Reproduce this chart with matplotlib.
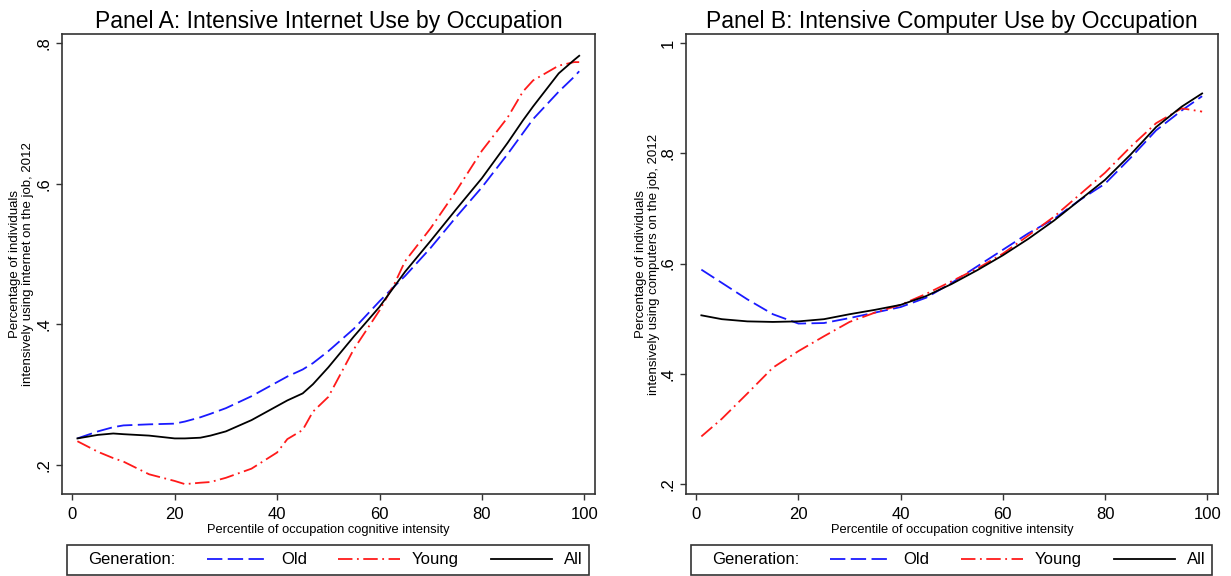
import matplotlib
matplotlib.use("Agg")
import matplotlib.pyplot as plt
from matplotlib.lines import Line2D
from matplotlib.patches import Rectangle

plt.rcParams['font.family'] = ['Liberation Sans', 'DejaVu Sans']

# Panel A: intensive internet use, by percentile of cognitive intensity
pct_a = [1, 5, 8, 10, 15, 20, 22, 25, 27, 30, 35, 40, 42, 45, 47, 50, 55, 60,
         63, 65, 70, 75, 80, 85, 88, 90, 95, 98, 99]
old_a = [0.238, 0.248, 0.254, 0.2565, 0.258, 0.259, 0.262, 0.268, 0.273, 0.281,
         0.298, 0.318, 0.326, 0.336, 0.345, 0.362, 0.394, 0.433, 0.455, 0.469,
         0.509, 0.553, 0.595, 0.642, 0.672, 0.692, 0.731, 0.752, 0.760]
young_a = [0.234, 0.219, 0.210, 0.205, 0.187, 0.1775, 0.173, 0.175, 0.176, 0.182,
           0.195, 0.218, 0.237, 0.250, 0.276, 0.297, 0.365, 0.420, 0.459, 0.490,
           0.537, 0.590, 0.647, 0.694, 0.731, 0.747, 0.768, 0.773, 0.773]
all_a = [0.238, 0.243, 0.245, 0.244, 0.242, 0.238, 0.238, 0.239, 0.242, 0.248,
         0.264, 0.284, 0.292, 0.302, 0.315, 0.339, 0.383, 0.425, 0.455, 0.475,
         0.519, 0.564, 0.608, 0.658, 0.690, 0.710, 0.757, 0.776, 0.782]

# Panel B: intensive computer use
pct_b = [1, 5, 10, 15, 20, 25, 30, 35, 40, 45, 50, 55, 60, 65, 70, 75, 80, 85,
         90, 95, 99]
old_b = [0.589, 0.565, 0.535, 0.508, 0.491, 0.492, 0.501, 0.511, 0.521, 0.538,
         0.565, 0.595, 0.625, 0.655, 0.681, 0.715, 0.745, 0.792, 0.842, 0.878,
         0.904]
young_b = [0.286, 0.318, 0.364, 0.411, 0.441, 0.468, 0.494, 0.511, 0.525, 0.545,
           0.568, 0.591, 0.618, 0.651, 0.685, 0.725, 0.765, 0.812, 0.855, 0.882,
           0.876]
all_b = [0.506, 0.499, 0.495, 0.494, 0.495, 0.499, 0.508, 0.516, 0.525, 0.541,
         0.563, 0.588, 0.615, 0.645, 0.678, 0.715, 0.752, 0.798, 0.848, 0.885,
         0.909]

x_ticks = [0, 20, 40, 60, 80, 100]
yticks_a = [0.2, 0.4, 0.6, 0.8]
ylabels_a = ['.2', '.4', '.6', '.8']
yticks_b = [0.2, 0.4, 0.6, 0.8, 1.0]
ylabels_b = ['.2', '.4', '.6', '.8', '1']

old_style = dict(color='#1a1aff', lw=1.3, dashes=(8.5, 3))
young_style = dict(color='#ff1a1a', lw=1.3, dashes=(8, 2.5, 1, 2.5))
all_style = dict(color='black', lw=1.3)

fig = plt.figure(figsize=(12.31, 5.76), dpi=100)
ax_a = fig.add_axes([0.0504, 0.1424, 0.433, 0.7986])
ax_b = fig.add_axes([0.5573, 0.1424, 0.4321, 0.7986])


def draw_panel(ax, x, old, young, allv, title, ylab, yticks, ylabels, ylim,
               ylab_x):
    ax.plot(x, old, **old_style)
    ax.plot(x, young, **young_style)
    ax.plot(x, allv, **all_style)
    ax.set_xlim(-2, 102.1)
    ax.set_ylim(*ylim)
    ax.set_xticks(x_ticks)
    ax.set_yticks(yticks)
    ax.set_yticklabels(ylabels, rotation=90, va='center')
    ax.tick_params(direction='out', length=4.5, width=1, labelsize=12,
                   color='#333333')
    ax.tick_params(axis='x', pad=5)
    ax.tick_params(axis='y', pad=3)
    for sp in ax.spines.values():
        sp.set_color('#333333')
        sp.set_linewidth(1.2)
    ax.set_title(title, fontsize=16.5, pad=4.5)
    ax.set_xlabel('Percentile of occupation cognitive intensity', fontsize=9.3,
                  labelpad=1)
    ax.set_ylabel(ylab, fontsize=9.5, linespacing=1.1)
    ax.yaxis.set_label_coords(ylab_x, 0.5)

    # legend box under the plot region
    ax.add_patch(Rectangle((0.0094, -0.176), 0.9796, 0.065,
                           transform=ax.transAxes, clip_on=False,
                           fill=False, ec='#333333', lw=1.2))
    ax.text(0.049, -0.1435, 'Generation:', transform=ax.transAxes,
            fontsize=12, va='center', ha='left')
    handles = [Line2D([], [], **old_style), Line2D([], [], **young_style),
               Line2D([], [], **all_style)]
    ax.legend(handles, ['Old', 'Young', 'All'], ncol=3, frameon=False,
              loc='center right', bbox_to_anchor=(0.99, -0.1435),
              fontsize=12, handlelength=3.7, handletextpad=0.72,
              columnspacing=1.9, borderaxespad=0)


draw_panel(ax_a, pct_a, old_a, young_a, all_a,
           'Panel A: Intensive Internet Use by Occupation',
           'Percentage of individuals\nintensively using internet on the job, 2012',
           yticks_a, ylabels_a, (0.159, 0.813), -0.052)
draw_panel(ax_b, pct_b, old_b, young_b, all_b,
           'Panel B: Intensive Computer Use by Occupation',
           'Percentage of individuals\nintensively using computers on the job, 2012',
           yticks_b, ylabels_b, (0.1815, 1.017), -0.049)

fig.savefig('out.png', dpi=100)
